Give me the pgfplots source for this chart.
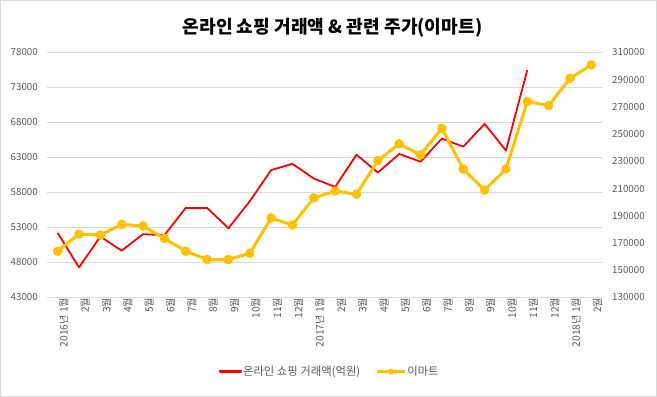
\documentclass[border=0pt]{standalone}
\usepackage{fontspec}
\setmainfont{Noto Sans CJK KR}
\usepackage{pgfplots}
\pgfplotsset{compat=1.18}
\definecolor{gridgray}{HTML}{D9D9D9}
\definecolor{ticktext}{HTML}{595959}
\definecolor{emartyellow}{HTML}{FFC000}
\definecolor{lineRed}{HTML}{FF0000}
\pgfplotsset{
  /pgf/number format/1000 sep={},
  common/.style={
    scale only axis, width=555bp, height=245bp,
    xmin=-0.5, xmax=25.5,
    axis line style={draw=none},
    tick style={draw=none},
    major tick length=0pt,
    scaled y ticks=false,
    /pgf/number format/fixed,
    /pgf/number format/precision=0,
    /pgf/number format/assume math mode=true,
    ticklabel style={font=\fontsize{9.8}{11}\selectfont, text=ticktext},
  },
  redleg/.style={legend image code/.code={\fill[red] (0bp,-0.9bp) rectangle (21bp,0.9bp);}},
  yelleg/.style={legend image code/.code={\draw[emartyellow, line width=3bp] (0bp,0bp) -- (28bp,0bp); \fill[emartyellow] (14bp,0bp) circle (2.6bp);}},
}
\begin{document}
\begin{tikzpicture}
\begin{axis}[common,
  ymin=43000, ymax=78000,
  ytick={43000,48000,53000,58000,63000,68000,73000,78000},
  ymajorgrids, grid style={gridgray, line width=0.75bp},
  yticklabel pos=left,
  yticklabel style={anchor=east, inner sep=0pt, xshift=-9bp},
  xtick={0,...,25},
  xticklabels={2016년 1월,2월,3월,4월,5월,6월,7월,8월,9월,10월,11월,12월,2017년 1월,2월,3월,4월,5월,6월,7월,8월,9월,10월,11월,12월,2018년 1월,2월},
  xticklabel style={rotate=90, anchor=east, inner sep=0pt, yshift=-6bp, font=\fontsize{10.3}{11}\selectfont},
  legend style={at={(0.509,-0.302)}, anchor=center, draw=none, fill=none,
    legend columns=2, font=\fontsize{11.4}{13}\selectfont,
    nodes={inner sep=1bp},
    /tikz/every even column/.append style={column sep=14bp}},
]
\addplot[color=red, line width=1.8bp, line join=round, redleg] coordinates {
(0,52250) (1,47300) (2,51700) (3,49700) (4,52050) (5,51900) (6,55800) (7,55800)
(8,52900) (9,56750) (10,61200) (11,62100) (12,60000) (13,58800) (14,63400)
(15,60850) (16,63500) (17,62400) (18,65700) (19,64550) (20,67800) (21,64000) (22,75500)
};
\addlegendentry{\textcolor{ticktext}{온라인 쇼핑 거래액(억원)}}
\addlegendimage{yelleg}
\addlegendentry{\textcolor{ticktext}{이마트}}
\end{axis}
\begin{axis}[common,
  ymin=130000, ymax=310000,
  ytick={130000,150000,170000,190000,210000,230000,250000,270000,290000,310000},
  yticklabel pos=right,
  yticklabel style={anchor=west, inner sep=0pt, xshift=10bp},
  xtick=\empty,
]
\addplot[color=emartyellow, line width=3bp, line join=round, mark=*, mark size=3.2bp, mark options={solid}] coordinates {
(0,164000) (1,176600) (2,175900) (3,183700) (4,182500) (5,173400) (6,164000)
(7,157900) (8,157900) (9,162500) (10,188400) (11,183300) (12,203200) (13,208200)
(14,205900) (15,230600) (16,242900) (17,234800) (18,254300) (19,224400) (20,208900)
(21,224400) (22,274000) (23,271000) (24,291000) (25,300900)
};
\end{axis}
\node[anchor=base, font=\bfseries\fontsize{18.2}{20}\selectfont, text=black] at (285.5bp,263.5bp) {온라인 쇼핑 거래액 \& 관련 주가(이마트)};
\draw[gridgray, line width=0.75bp] (-46.6bp,-99.1bp) rectangle (609.6bp,297.1bp);
\pgfresetboundingbox
\useasboundingbox (-47bp,-99.5bp) rectangle (610bp,297.5bp);
\end{tikzpicture}
\end{document}
